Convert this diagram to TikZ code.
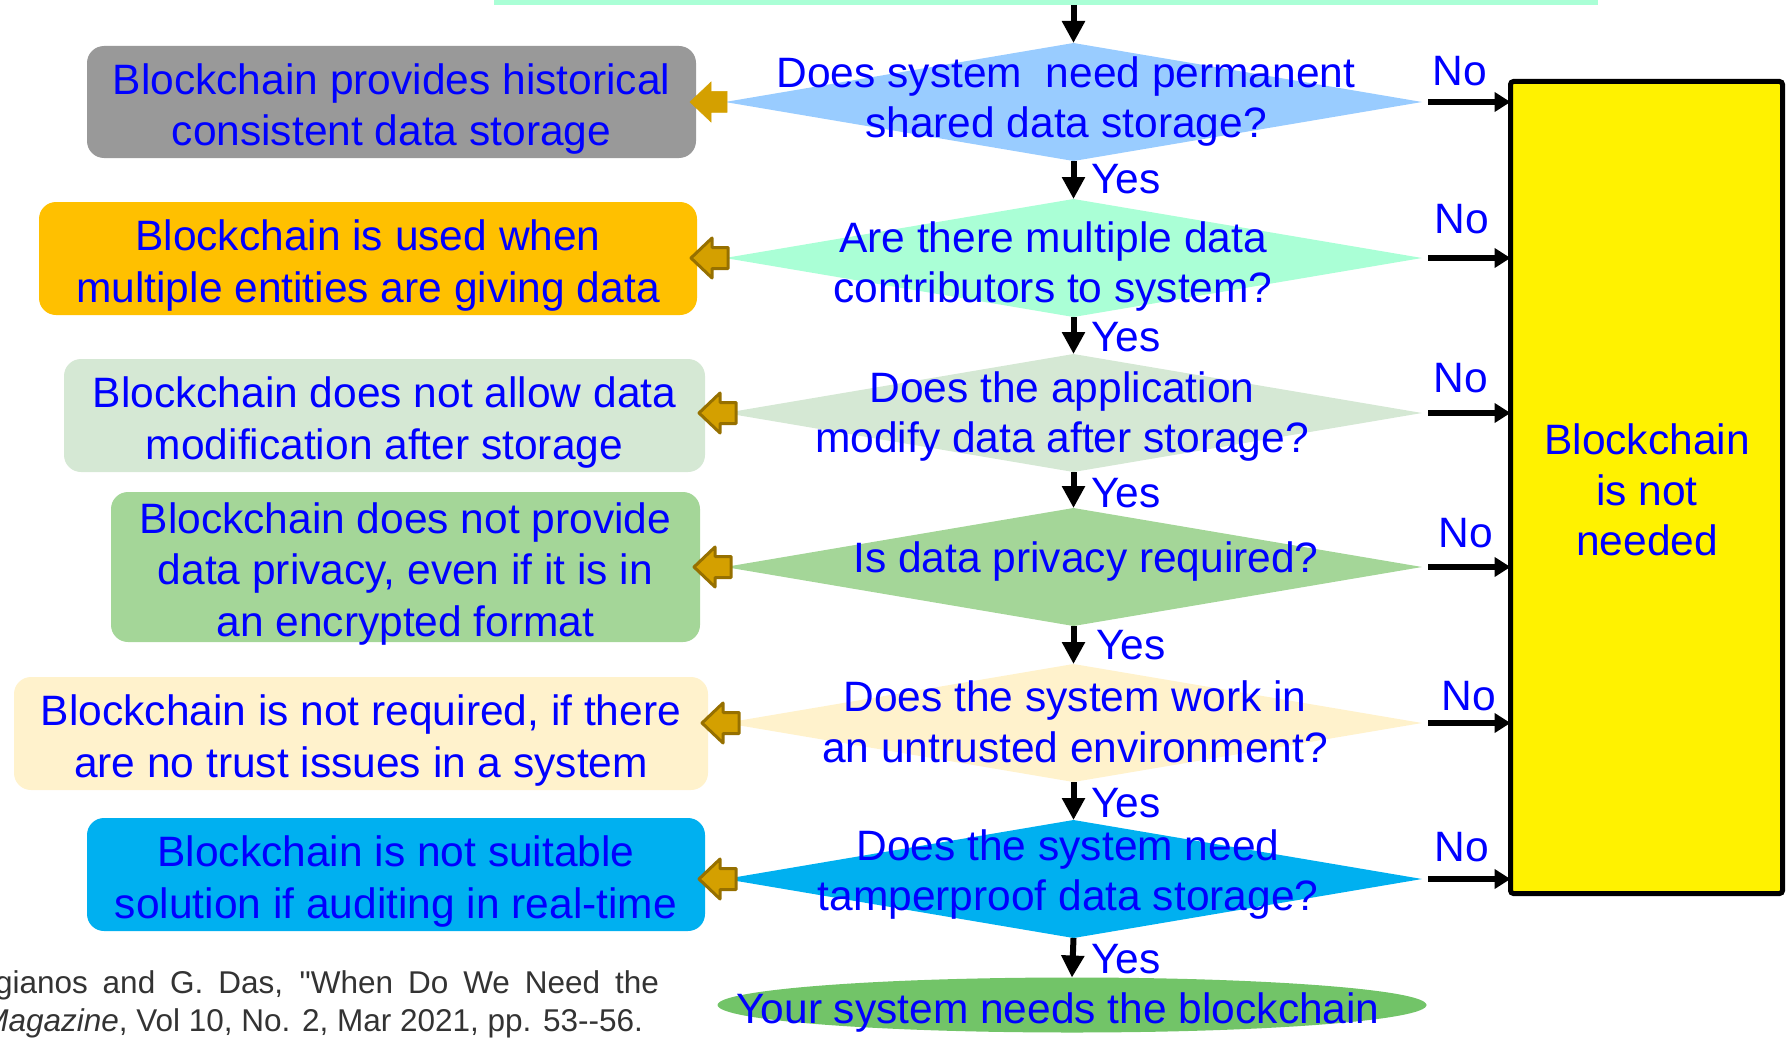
\documentclass[tikz,border=0pt]{standalone}
\usepackage{fontspec}
\setmainfont{Liberation Sans}
\newfontfamily\citefont[Ligatures=TeXOff]{Liberation Sans}
\usetikzlibrary{shapes.geometric,arrows.meta,calc}
\definecolor{txtblue}{RGB}{0,0,255}
\definecolor{citegray}{RGB}{51,51,51}
\definecolor{mint}{RGB}{170,255,214}
\definecolor{dblue}{RGB}{153,204,255}
\definecolor{paleg}{RGB}{213,232,212}
\definecolor{midg}{RGB}{164,214,152}
\definecolor{cream}{RGB}{255,242,204}
\definecolor{cyanb}{RGB}{0,176,240}
\definecolor{grayb}{RGB}{153,153,153}
\definecolor{orangeb}{RGB}{255,192,0}
\definecolor{ellg}{RGB}{114,196,104}
\definecolor{gold}{RGB}{212,160,0}
\definecolor{golddark}{RGB}{150,112,0}
\begin{document}
\begin{tikzpicture}[x=1pt,y=-1pt,
  every node/.style={font=\fontsize{42.5}{50.5}\selectfont, text=txtblue, inner sep=0pt, outer sep=0pt},
  lbox/.style={rectangle, rounded corners=17pt},
  btxt/.style={align=center, yshift=-7pt, font=\fontsize{42.5}{51.2}\selectfont},
  dia/.style={diamond, minimum width=697pt, minimum height=118pt, inner sep=0pt},
  qtext/.style={align=center},
  yesarr/.style={-{Triangle[length=22pt,width=22pt]}, line width=6pt},
  noarr/.style={-{Triangle[length=16pt,width=19pt]}, line width=6.5pt, shorten <=6pt},
  blk/.style={fill=gold, draw=golddark, line width=3pt, line join=round},
  blkflat/.style={fill=gold, draw=gold, line width=0.5pt},
  lab/.style={anchor=base},
  cite/.style={font=\citefont\fontsize{31.5}{38}\selectfont, text=citegray, anchor=base east}
  ]
\useasboundingbox (0,0) rectangle (1787,1038);
\clip (0,0) rectangle (1787,1038);

% top bar
\node[rectangle, fill=mint, minimum width=1104pt, minimum height=10pt, anchor=south] (T) at (1046,5) {};

% diamonds
\node[dia, fill=dblue] (D1) at (1073.5,102) {};
\node[dia, fill=mint]  (D2) at (1073.5,258) {};
\node[dia, fill=paleg] (D3) at (1073.5,413) {};
\node[dia, fill=midg]  (D4) at (1073.5,567) {};
\node[dia, fill=cream] (D5) at (1073.5,723) {};
\node[dia, fill=cyanb] (D6) at (1073.5,879) {};

\node[qtext] (Q1) at (1066,101.5) {Does system~ need permanent\\shared data storage?};
\node[qtext] (Q2) at (1053,266.5) {Are there multiple data\\contributors to system?};
\node[qtext] (Q3) at (1062,416.5) {Does the application\\modify data after storage?};
\node[qtext] (Q4) at (1086,561.5) {Is data privacy required?};
\node[qtext] (Q5) at (1075,722) {Does the system work in\\an untrusted environment?};
\node[qtext] (Q6) at (1068,874.5) {Does the system need\\tamperproof data storage?};

% final ellipse
\node[ellipse, fill=ellg, minimum width=709pt, minimum height=55pt] (E) at (1072,1005) {};
\node (Et) at (1058,1012.5) {Your system needs the blockchain};

% yellow box
\node[rectangle, draw=black, line width=5pt, fill=yellow, rounded corners=3pt,
      minimum width=272pt, minimum height=812pt] (R) at (1646.5,487.5) {};
\node[align=center] (Rt) at (1647,490) {Blockchain\\is not\\needed};

% left boxes
\node[lbox, fill=grayb,   minimum width=609pt, minimum height=112pt,
      label={[btxt]center:{Blockchain provides historical\\consistent data storage}}] (B1) at (391.5,102) {};
\node[lbox, fill=orangeb, minimum width=658pt, minimum height=113pt,
      label={[btxt]center:{Blockchain is used when\\multiple entities are giving data}}] (B2) at (368,258.5) {};
\node[lbox, fill=paleg,   minimum width=641pt, minimum height=113pt,
      label={[btxt]center:{Blockchain does not allow data\\modification after storage}}] (B3) at (384.5,415.5) {};
\node[lbox, fill=midg,    minimum width=589pt, minimum height=150pt,
      label={[btxt]center:{Blockchain does not provide\\data privacy, even if it is in\\an encrypted format}}] (B4) at (405.5,567) {};
\node[lbox, fill=cream,   minimum width=694pt, minimum height=113pt,
      label={[btxt]center:{Blockchain is not required, if there\\are no trust issues in a system}}] (B5) at (361,733.5) {};
\node[lbox, fill=cyanb,   minimum width=618pt, minimum height=113pt,
      label={[btxt]center:{Blockchain is not suitable\\solution if auditing in real-time}}] (B6) at (396,874.5) {};

% block arrows (diamond -> box)
\foreach \b/\d/\st in {B1/D1/blkflat, B2/D2/blk, B3/D3/blk, B4/D4/blk, B5/D5/blk, B6/D6/blk}{
  \filldraw[\st] (\b.east |- \d.west) ++(-6,0) -- ++(21,-20) -- ++(0,9.5) -- ++(16,0)
     -- ++(0,21) -- ++(-16,0) -- ++(0,9.5) -- cycle;
}

% yes arrows
\draw[yesarr] (T.south -| D1.north) -- (D1.north);
\draw[yesarr] (D1.south) -- (D2.north);
\draw[yesarr] (D2.south) -- (D3.north);
\draw[yesarr] (D3.south) -- (D4.north);
\draw[yesarr] (D4.south) -- (D5.north);
\draw[yesarr] (D5.south) -- (D6.north);
\draw[yesarr] (D6.south) -- (E.north);

\node[lab] (Y1) at (1126,193) {Yes};
\node[lab] (Y2) at (1126,351) {Yes};
\node[lab] (Y3) at (1126,507) {Yes};
\node[lab] (Y4) at (1131,659) {Yes};
\node[lab] (Y5) at (1126,817) {Yes};
\node[lab] (Y6) at (1126,973) {Yes};

% no arrows
\foreach \d in {D1,D2,D3,D4,D5,D6}{
  \draw[noarr] (\d.east) -- (\d.east -| R.west);
}
\node[lab] (N1) at (1460,86) {No};
\node[lab] (N2) at (1462,233) {No};
\node[lab] (N3) at (1461,392) {No};
\node[lab] (N4) at (1466,547) {No};
\node[lab] (N5) at (1469,710) {No};
\node[lab] (N6) at (1462,861) {No};

% citation
\node[cite] (C1) at (659,993) {\makebox[664pt][s]{gianos and G. Das, "When Do We Need the}};
\node[cite] (C2) at (643,1031) {\textit{Magazine}, Vol 10, No. 2, Mar 2021, pp. 53--56.};
\end{tikzpicture}
\end{document}
